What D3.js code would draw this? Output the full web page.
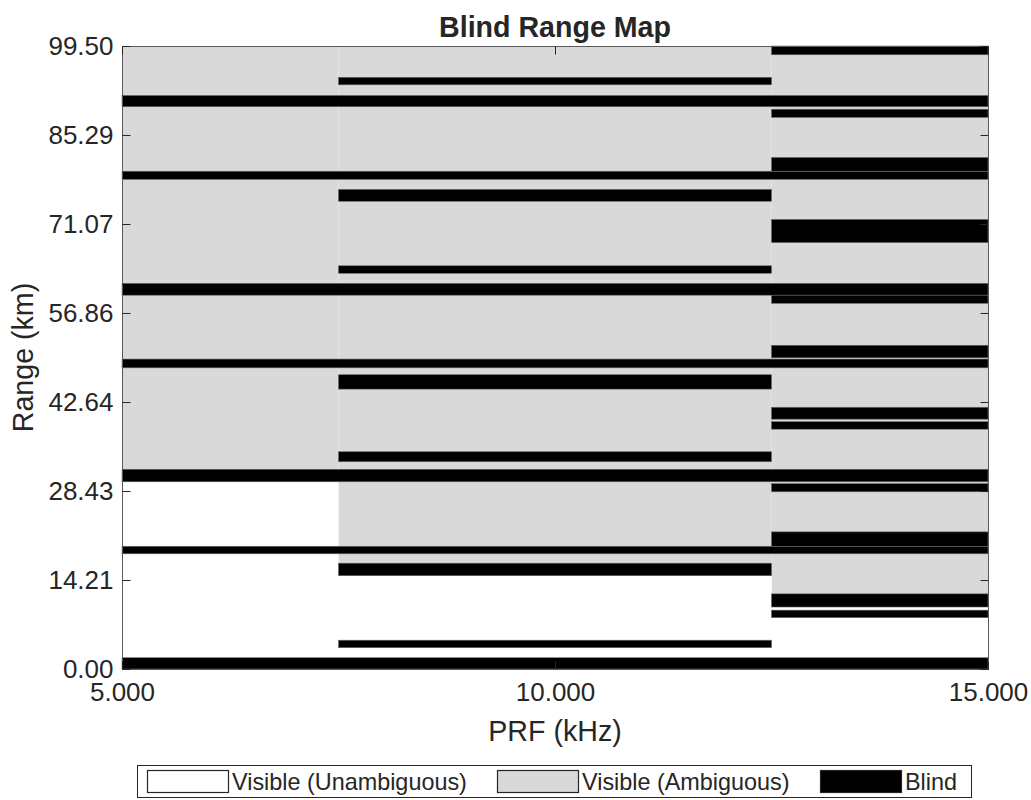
<!DOCTYPE html>
<html>
<head>
<meta charset="utf-8">
<script src="https://cdn.jsdelivr.net/npm/d3@7"></script>
<style>
  html, body { margin: 0; padding: 0; background: #ffffff; }
  svg { display: block; }
  text { font-family: Arial, "Liberation Sans", Helvetica, sans-serif; fill: #262626; }
</style>
</head>
<body>
<script>
// ---------------- data ----------------
const prfColumnStart = [5, 7.5, 12.5];          // kHz
const prfColumnEnd   = [7.5, 12.5, 15];         // kHz
const unambiguousTop = [29.9, 14.9, 9.9];       // km, white region upper edge per column
const rangeMax = 99.5;                          // km

// blind zones spanning every PRF column (km)
const blindAllColumns = [[0, 1.8], [18.4, 19.6], [29.9, 31.9], [48.1, 49.5], [59.7, 61.6], [78.2, 79.5], [89.8, 91.6]];
// extra blind zones, PRF column 2 (7.5–12.5 kHz)
const blindColumn2 = [[3.4, 4.6], [14.9, 16.9], [33.1, 34.7], [44.7, 47.0], [63.2, 64.4], [74.7, 76.6], [93.3, 94.5]];
// extra blind zones, PRF column 3 (12.5–15 kHz)
const blindColumn3 = [[8.2, 9.4], [9.9, 12.0], [19.6, 21.9], [28.3, 29.6], [38.3, 39.5], [39.9, 41.8], [49.7, 51.7],
                      [58.4, 59.7], [68.1, 71.8], [79.5, 81.7], [88.1, 89.4], [98.1, 99.5]];

const xTicks = [5, 10, 15];
const yTicks = [0, 14.21, 28.43, 42.64, 56.86, 71.07, 85.29, 99.5];
const legendLabels = ["Visible (Unambiguous)", "Visible (Ambiguous)", "Blind"];
const legendColors = ["#ffffff", "#d9d9d9", "#000000"];

// ---------------- layout ----------------
const W = 1031, H = 800;
const plot = { left: 122, right: 988, top: 46, bottom: 669 };

const svg = d3.select("body").append("svg").attr("width", W).attr("height", H);

const x = d3.scaleLinear().domain([5, 15]).range([plot.left, plot.right]);
const y = d3.scaleLinear().domain([0, rangeMax]).range([plot.bottom, plot.top]);

const g = svg.append("g");

// ambiguous (grey) background and unambiguous (white) part for each column
const cols = d3.range(prfColumnStart.length).map(i => ({
  x0: prfColumnStart[i], x1: prfColumnEnd[i], ua: unambiguousTop[i]
}));

g.selectAll("rect.amb").data(cols).join("rect")
  .attr("class", "amb")
  .attr("x", d => x(d.x0)).attr("width", d => x(d.x1) - x(d.x0))
  .attr("y", y(rangeMax)).attr("height", d => y(d.ua) - y(rangeMax))
  .attr("fill", legendColors[1]);

g.selectAll("rect.unamb").data(cols).join("rect")
  .attr("class", "unamb")
  .attr("x", d => x(d.x0)).attr("width", d => x(d.x1) - x(d.x0))
  .attr("y", d => y(d.ua)).attr("height", d => y(0) - y(d.ua))
  .attr("fill", legendColors[0]);

// blind bands
const blindRects = [];
blindAllColumns.forEach(b => blindRects.push({ x0: 5, x1: 15, r0: b[0], r1: b[1] }));
blindColumn2.forEach(b => blindRects.push({ x0: prfColumnStart[1], x1: prfColumnEnd[1], r0: b[0], r1: b[1] }));
blindColumn3.forEach(b => blindRects.push({ x0: prfColumnStart[2], x1: prfColumnEnd[2], r0: b[0], r1: b[1] }));

g.selectAll("rect.blind").data(blindRects).join("rect")
  .attr("class", "blind")
  .attr("x", d => x(d.x0)).attr("width", d => x(d.x1) - x(d.x0))
  .attr("y", d => y(d.r1)).attr("height", d => y(d.r0) - y(d.r1))
  .attr("fill", legendColors[2])
  .attr("stroke", "#6a6a6a").attr("stroke-width", 0.6);

// ---------------- axes ----------------
const axisColor = "#262626";
const tickLen = 8;
const tickFont = "26px";

// box
svg.append("rect")
  .attr("x", plot.left + 0.5).attr("y", plot.top + 0.5)
  .attr("width", plot.right - plot.left).attr("height", plot.bottom - plot.top)
  .attr("fill", "none").attr("stroke", "#5a5a5a").attr("stroke-width", 1);

const axL = svg.append("g").attr("transform", `translate(${plot.left + 0.5},0)`)
  .call(d3.axisLeft(y).tickValues(yTicks).tickSize(-tickLen).tickPadding(9).tickFormat(d3.format(".2f")));
const axR = svg.append("g").attr("transform", `translate(${plot.right + 0.5},0)`)
  .call(d3.axisRight(y).tickValues(yTicks).tickSize(-tickLen).tickFormat(""));
const axB = svg.append("g").attr("transform", `translate(0,${plot.bottom + 0.5})`)
  .call(d3.axisBottom(x).tickValues(xTicks).tickSize(-tickLen).tickPadding(13).tickFormat(d3.format(".3f")));
const axT = svg.append("g").attr("transform", `translate(0,${plot.top + 0.5})`)
  .call(d3.axisTop(x).tickValues(xTicks).tickSize(-tickLen).tickFormat(""));

[axL, axR, axB, axT].forEach(a => {
  a.select(".domain").remove();
  a.selectAll(".tick line").attr("stroke", axisColor);
  a.selectAll(".tick text").style("font-size", tickFont).attr("fill", axisColor)
    .style("font-family", "Arial, 'Liberation Sans', sans-serif");
});

// title & labels
svg.append("text").attr("x", (plot.left + plot.right) / 2).attr("y", 37)
  .attr("text-anchor", "middle").style("font-size", "28.6px").style("font-weight", "bold")
  .text("Blind Range Map");

svg.append("text").attr("x", (plot.left + plot.right) / 2).attr("y", 741)
  .attr("text-anchor", "middle").style("font-size", "28.6px")
  .text("PRF (kHz)");

svg.append("text")
  .attr("transform", `translate(33,${(plot.top + plot.bottom) / 2}) rotate(-90)`)
  .attr("text-anchor", "middle").style("font-size", "28.6px")
  .text("Range (km)");

// ---------------- legend ----------------
const leg = svg.append("g");
leg.append("rect").attr("x", 137.5).attr("y", 765.5).attr("width", 834).attr("height", 32)
  .attr("fill", "#ffffff").attr("stroke", "#262626").attr("stroke-width", 1);

const legendSwatchX = [147, 497, 820];
legendLabels.forEach((lab, i) => {
  leg.append("rect").attr("x", legendSwatchX[i] + 0.5).attr("y", 770.5).attr("width", 81).attr("height", 22)
    .attr("fill", legendColors[i]).attr("stroke", "#262626").attr("stroke-width", 1.2);
  leg.append("text").attr("x", legendSwatchX[i] + 85).attr("y", 789.5)
    .style("font-size", "23.4px").text(lab);
});
</script>
</body>
</html>
